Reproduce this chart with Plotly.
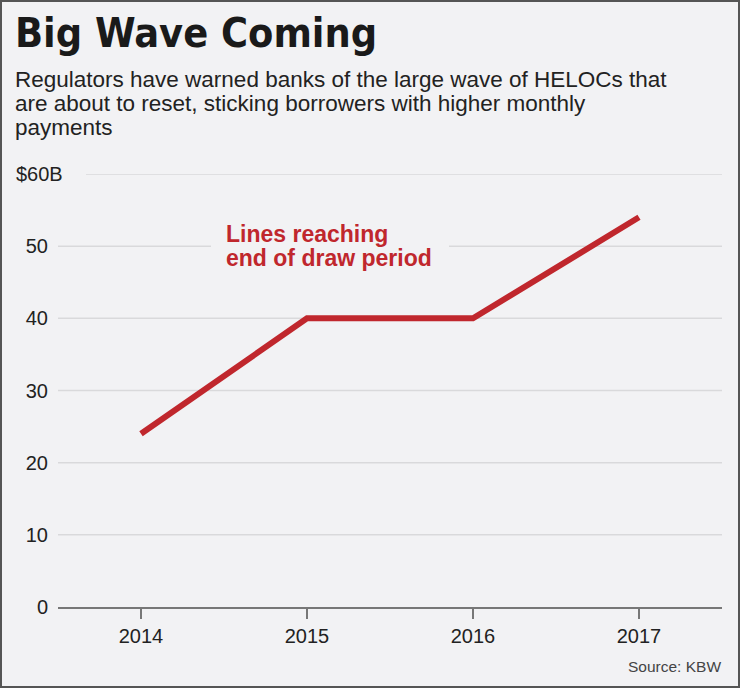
import plotly.graph_objects as go

years = [2014, 2015, 2016, 2017]
values = [24, 40, 40, 54]
y_ticks = [0, 10, 20, 30, 40, 50]
y_ticktext = ["0", "10", "20", "30", "40", "50"]
top_tick = 60
top_label = "$60B"

title = "Big Wave Coming"
subtitle_lines = ["Regulators have warned banks of the large wave of HELOCs that",
                  "are about to reset, sticking borrowers with higher monthly",
                  "payments"]
note_lines = ["Lines reaching", "end of draw period"]
source = "Source: KBW"

W, H = 740, 688
L, R, T, B = 58, 18, 174, 81
PW, PH = W - L - R, H - T - B

def px(x):
    return (x - L) / PW

def py(y):
    return (H - B - y) / PH

def dy(y):
    return (H - B - y) / PH * 60

BG = "#f2f2f4"
RED = "#c0272d"
COND = "DejaVu Sans Condensed, Liberation Sans Narrow, Liberation Sans, sans-serif"
SANS = "Liberation Sans, Arial, Helvetica, sans-serif"

fig = go.Figure()
fig.add_trace(go.Scatter(x=years, y=values, mode="lines",
                         line=dict(color=RED, width=6), hoverinfo="skip",
                         showlegend=False))

shapes = []
for v in y_ticks[1:]:
    shapes.append(dict(type="line", xref="paper", yref="y", x0=0, x1=1, y0=v, y1=v,
                       line=dict(color="#d9d9db", width=1.5), layer="below"))
shapes.append(dict(type="line", xref="paper", yref="y", x0=px(86), x1=1,
                   y0=top_tick, y1=top_tick,
                   line=dict(color="#d9d9db", width=1.5), layer="below"))
# background box behind the note (hides gridline)
shapes.append(dict(type="rect", xref="paper", yref="paper", x0=px(211), x1=px(449),
                   y0=py(272), y1=py(220), fillcolor=BG, line=dict(width=0),
                   layer="below"))
shapes.append(dict(type="rect", xref="paper", yref="paper", x0=px(1), x1=px(739),
                   y0=py(687), y1=py(1), line=dict(color="#555555", width=2)))

annotations = [
    dict(text=title, xref="paper", yref="paper", x=px(13), y=py(33),
         xanchor="left", yanchor="middle", showarrow=False,
         font=dict(family=COND, size=41, color="#1a1a1a", weight="bold")),
    dict(text=top_label, xref="paper", yref="y", x=px(14), y=top_tick,
         xanchor="left", yanchor="middle", showarrow=False,
         font=dict(family=SANS, size=20, color="#222222")),
    dict(text=source, xref="paper", yref="paper", x=px(723), y=py(666),
         xanchor="right", yanchor="middle", showarrow=False,
         font=dict(family=SANS, size=15.5, color="#444444")),
]
for i, line in enumerate(subtitle_lines):
    annotations.append(dict(text=line, xref="paper", yref="paper", x=px(13),
                            y=py(79 + 24.5 * i), xanchor="left", yanchor="middle",
                            showarrow=False,
                            font=dict(family=SANS, size=22.5, color="#222222")))
for i, line in enumerate(note_lines):
    annotations.append(dict(text=line, xref="x", yref="y", x=2014.5,
                            y=dy(234 + 24 * i), xanchor="left", yanchor="middle",
                            showarrow=False,
                            font=dict(family=SANS, size=23, color=RED, weight="bold")))

fig.update_layout(
    width=W, height=H, margin=dict(l=L, r=R, t=T, b=B),
    paper_bgcolor=BG, plot_bgcolor=BG,
    shapes=shapes, annotations=annotations, showlegend=False,
    xaxis=dict(range=[2013.5, 2017.5], tickvals=years, ticktext=[str(y) for y in years],
               showgrid=False, zeroline=False, showline=True, linecolor="#777777",
               linewidth=2, ticks="outside", ticklen=10, tickwidth=2, tickcolor="#777777",
               ticklabelstandoff=0,
               tickfont=dict(family=SANS, size=20, color="#222222")),
    yaxis=dict(range=[0, 60], tickvals=y_ticks, ticktext=y_ticktext, showgrid=False,
               zeroline=False, showline=False, ticks="", ticklabelstandoff=9,
               tickfont=dict(family=SANS, size=20, color="#222222")),
)

fig.write_html("out.html", config={"displayModeBar": False},
               post_script="document.body.style.margin='0';document.body.style.padding='0';")
